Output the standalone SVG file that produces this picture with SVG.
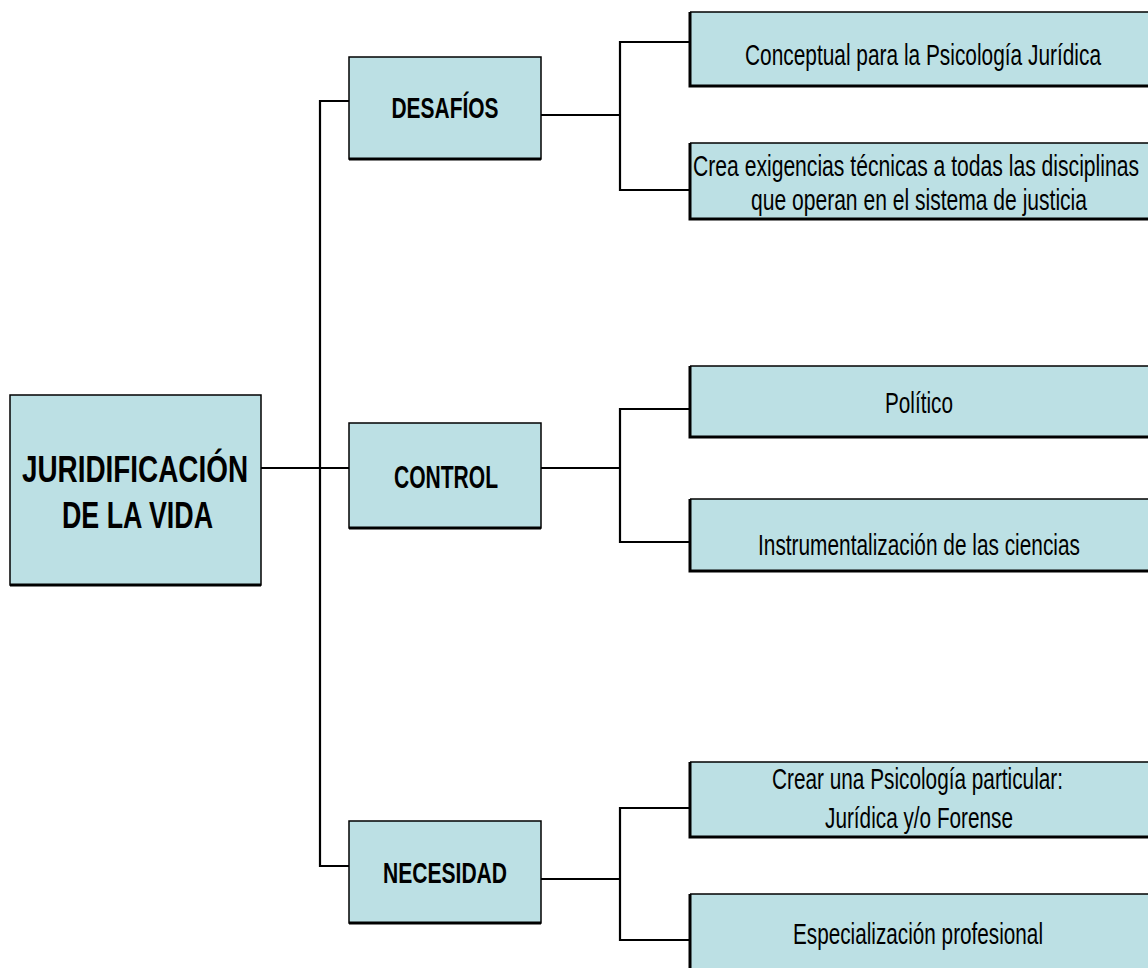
<svg xmlns="http://www.w3.org/2000/svg" width="1148" height="968" viewBox="0 0 1148 968">
<style>
.box{fill:#BCE0E4;stroke:#000;stroke-width:1.5}
.leaf{fill:#BCE0E4;stroke:none}
.thin{stroke:#000;stroke-width:1.5;fill:none}
.thick{stroke:#000;stroke-width:3;fill:none}
.conn{stroke:#000;stroke-width:2.2;fill:none}
.tb{font-family:"Liberation Sans",Arial,sans-serif;font-weight:bold;fill:#000;text-anchor:middle}
.tr{font-family:"Liberation Sans",Arial,sans-serif;fill:#000;text-anchor:middle;font-size:21px}
</style>
<rect width="1148" height="968" fill="#fff"/>
<g id="connectors">
<path class="conn" d="M261 468 H349"/>
<path class="conn" d="M349 101 H320 V866 H349"/>
<path class="conn" d="M541 115 H620"/>
<path class="conn" d="M690 42 H620 V190 H690"/>
<path class="conn" d="M541 468 H620"/>
<path class="conn" d="M690 409 H620 V542 H690"/>
<path class="conn" d="M541 879 H620"/>
<path class="conn" d="M690 808 H620 V940 H690"/>
</g>
<g id="root">
<rect class="box" x="10" y="395" width="251" height="190"/>
<path class="thick" d="M10 585 H261"/>
<text class="tb" transform="translate(135 482) scale(1 1.32)" font-size="28" textLength="226" lengthAdjust="spacingAndGlyphs">JURIDIFICACIÓN</text>
<text class="tb" transform="translate(137.5 528) scale(1 1.32)" font-size="28" textLength="151" lengthAdjust="spacingAndGlyphs">DE LA VIDA</text>
</g>
<g id="desafios">
<rect class="box" x="349" y="57" width="192" height="102"/>
<path class="thick" d="M349 159 H541"/>
<text class="tb" x="445" y="118" font-size="30" textLength="107" lengthAdjust="spacingAndGlyphs">DESAFÍOS</text>
</g>
<g id="control">
<rect class="box" x="349" y="423" width="192" height="105"/>
<path class="thick" d="M349 528 H541"/>
<text class="tb" x="446" y="488" font-size="31" textLength="104" lengthAdjust="spacingAndGlyphs">CONTROL</text>
</g>
<g id="necesidad">
<rect class="box" x="349" y="821" width="192" height="102"/>
<path class="thick" d="M349 923 H541"/>
<text class="tb" x="445" y="883" font-size="30" textLength="124" lengthAdjust="spacingAndGlyphs">NECESIDAD</text>
</g>
<g id="leaf-conceptual">
<rect class="leaf" x="690" y="12" width="458" height="74"/>
<path class="thin" d="M690 12 H1148"/>
<path class="thick" d="M690 12 V86 H1148"/>
<text class="tr" transform="translate(923 65) scale(1 1.38)" textLength="356" lengthAdjust="spacingAndGlyphs">Conceptual para la Psicología Jurídica</text>
</g>
<g id="leaf-exigencias">
<rect class="leaf" x="690" y="143" width="458" height="76"/>
<path class="thin" d="M690 143 H1148"/>
<path class="thick" d="M690 143 V219 H1148"/>
<text class="tr" transform="translate(916 176) scale(1 1.38)" textLength="446" lengthAdjust="spacingAndGlyphs">Crea exigencias técnicas a todas las disciplinas</text>
<text class="tr" transform="translate(919 210) scale(1 1.38)" textLength="336" lengthAdjust="spacingAndGlyphs">que operan en el sistema de justicia</text>
</g>
<g id="leaf-politico">
<rect class="leaf" x="690" y="366" width="458" height="71"/>
<path class="thin" d="M690 366 H1148"/>
<path class="thick" d="M690 366 V437 H1148"/>
<text class="tr" transform="translate(919 413) scale(1 1.38)" textLength="68" lengthAdjust="spacingAndGlyphs">Político</text>
</g>
<g id="leaf-instrumentalizacion">
<rect class="leaf" x="690" y="499" width="458" height="72"/>
<path class="thin" d="M690 499 H1148"/>
<path class="thick" d="M690 499 V571 H1148"/>
<text class="tr" transform="translate(919 555) scale(1 1.38)" textLength="322" lengthAdjust="spacingAndGlyphs">Instrumentalización de las ciencias</text>
</g>
<g id="leaf-crear">
<rect class="leaf" x="690" y="762" width="458" height="75"/>
<path class="thin" d="M690 762 H1148"/>
<path class="thick" d="M690 762 V837 H1148"/>
<text class="tr" transform="translate(917.5 789) scale(1 1.38)" textLength="291" lengthAdjust="spacingAndGlyphs">Crear una Psicología particular:</text>
<text class="tr" transform="translate(919 828) scale(1 1.38)" textLength="188" lengthAdjust="spacingAndGlyphs">Jurídica y/o Forense</text>
</g>
<g id="leaf-especializacion">
<rect class="leaf" x="690" y="894" width="458" height="74"/>
<path class="thin" d="M690 894 H1148"/>
<path class="thick" d="M690 894 V968"/>
<text class="tr" transform="translate(918 944) scale(1 1.38)" textLength="250" lengthAdjust="spacingAndGlyphs">Especialización profesional</text>
</g>
</svg>
